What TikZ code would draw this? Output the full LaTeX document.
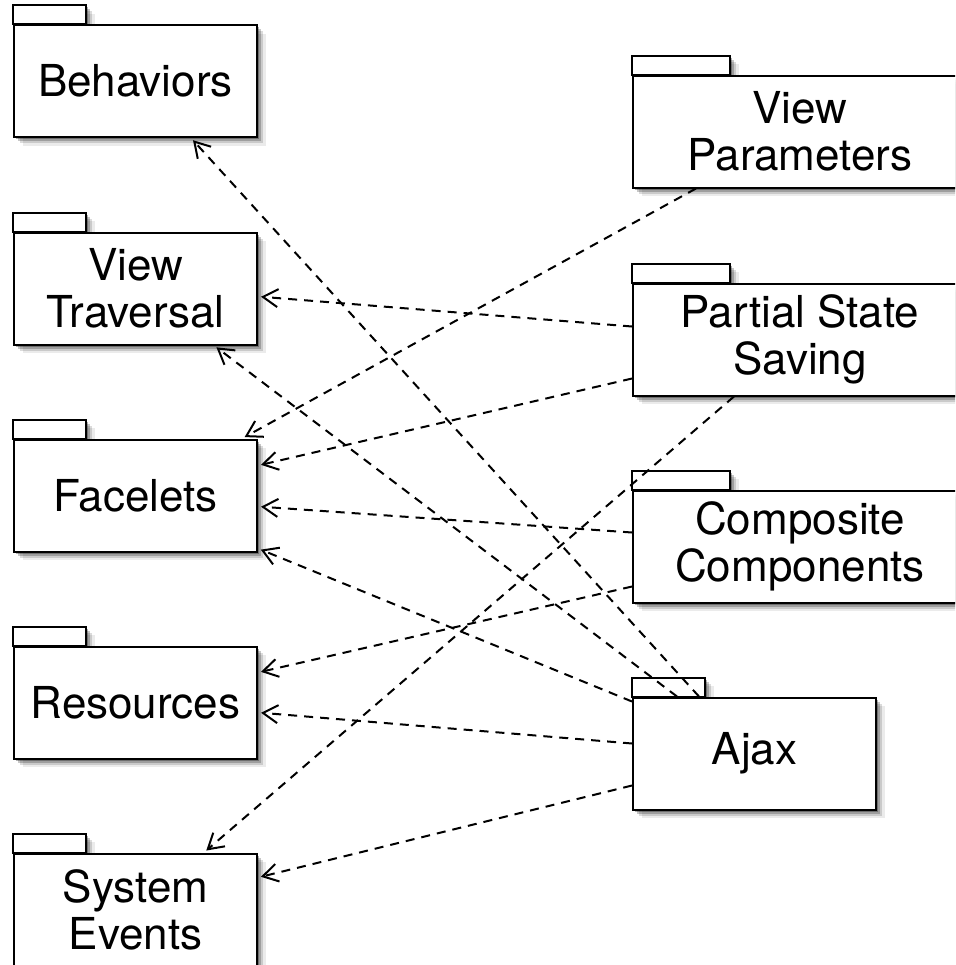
\documentclass[tikz,border=0pt]{standalone}
\usepackage{fontspec}
\setmainfont{TeX Gyre Heros}
\usetikzlibrary{calc,backgrounds,arrows.meta,shadows}

\begin{document}
\begin{tikzpicture}[x=0.5pt, y=0.5pt,
		softshadow/.style={
			general shadow={fill=black, opacity=0.30, shadow xshift=1.2pt, shadow yshift=-1.2pt},
			general shadow={fill=black, opacity=0.22, shadow xshift=2.2pt, shadow yshift=-2.2pt},
			general shadow={fill=black, opacity=0.14, shadow xshift=3.2pt, shadow yshift=-3.2pt},
			general shadow={fill=black, opacity=0.08, shadow xshift=4.4pt, shadow yshift=-4.4pt}},
		pkg/.style={draw, line width=1pt, fill=white, rectangle, inner sep=0pt,
			minimum width=121.5pt, minimum height=56pt, align=center,
			font=\fontsize{22}{23.5}\selectfont, softshadow},
		pkgtab/.style={draw, line width=1pt, fill=white},
		dep/.style={draw, line width=1pt, dash pattern=on 4.5pt off 3.5pt,
			-{Straight Barb[length=7.5pt, width=9pt, line width=1pt]}, shorten >=1.5pt}]
		\useasboundingbox (0,0) rectangle (955,-965);
		\clip (0,0) rectangle (955,-965);
		% left column
		\node[pkg](behav) at (135.5,-81) {Behaviors};
		\node[pkg](vtrav) at (135.5,-288.5) {View\\Traversal};
		\node[pkg](facel) at (135.5,-495.5) {Facelets};
		\node[pkg](res) at (135.5,-702.5) {Resources};
		\node[pkg](sysev) at (135.5,-909.5) {System\\Events};
		% right column
		\node[pkg, minimum width=167pt](vparam) at (800,-131.5) {View\\Parameters};
		\node[pkg, minimum width=167pt](pss) at (800,-339.5) {Partial State\\Saving};
		\node[pkg, minimum width=167pt](comp) at (800,-546.5) {Composite\\Components};
		\node[pkg](ajax) at (754.5,-753.5) {Ajax};
		% folder tabs behind the boxes
		\begin{pgfonlayer}{background}
			\foreach \n in {behav, vtrav, facel, res, sysev, ajax}
				\draw[pkgtab, softshadow] (\n.north west) rectangle ++(73,19);
			\foreach \n in {vparam, pss, comp}
				\draw[pkgtab, softshadow] (\n.north west) rectangle ++(98,19);
		\end{pgfonlayer}
		% dependencies
		\draw[dep] ($(ajax.north west)+(67,0)$) -- ($(behav.south west)+(178,0)$);
		\draw[dep] ($(pss.north west)+(0,-44)$) -- ($(vtrav.north east)+(0,-65)$);
		\draw[dep] ($(ajax.north west)+(45,0)$) -- ($(vtrav.south west)+(201,0)$);
		\draw[dep] ($(vparam.south west)+(64,0)$) -- ($(facel.north west)+(229,0)$);
		\draw[dep] ($(pss.north west)+(0,-96)$) -- ($(facel.north east)+(0,-27)$);
		\draw[dep] ($(comp.north west)+(0,-43)$) -- ($(facel.north east)+(0,-68)$);
		\draw[dep] ($(ajax.north west)+(0,-5)$) -- ($(facel.north east)+(0,-110)$);
		\draw[dep] ($(comp.north west)+(0,-97)$) -- ($(res.north east)+(0,-27)$);
		\draw[dep] ($(ajax.north west)+(0,-47)$) -- ($(res.north east)+(0,-67)$);
		\draw[dep] ($(pss.south west)+(102,0)$) -- ($(sysev.north west)+(191,0)$);
		\draw[dep] ($(ajax.north west)+(0,-89)$) -- ($(sysev.north east)+(0,-25)$);
	\end{tikzpicture}
\end{document}
